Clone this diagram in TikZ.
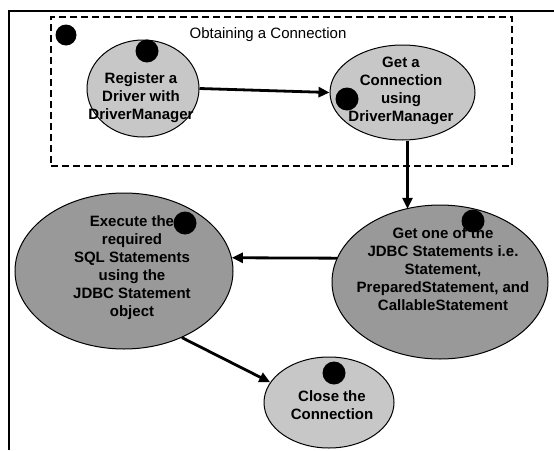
\documentclass[tikz,border=0pt]{standalone}
\usepackage{fontspec}
\setmainfont{Liberation Sans}
\usetikzlibrary{shapes.geometric,arrows.meta}
\begin{document}
\begin{tikzpicture}[x=1pt,y=-1pt,
  bubble/.style={ellipse,draw=black,line width=1pt,inner sep=0pt},
  light/.style={bubble,fill=black!22},
  dark/.style={bubble,fill=black!40},
  steptext/.style={align=center,font=\fontsize{15}{18}\selectfont\bfseries,inner sep=0pt},
  marker/.style={circle,fill=black,inner sep=0pt,minimum size=23pt},
  flow/.style={line width=2.8pt,-{Triangle[length=11pt,width=10pt]}},
  frame/.style={line width=1.3pt},
  group/.style={line width=1.4pt,dash pattern=on 7pt off 4pt}
]
\useasboundingbox (0,0) rectangle (554,450);

% page frame (top and left rules)
\coordinate (fl) at (9,450);
\coordinate (ftl) at (9,11);
\coordinate (ftr) at (554,11);
\draw[frame] (fl) -- (ftl) -- (ftr);

% group: obtaining a connection
\node[group,draw,minimum width=461pt,minimum height=149pt,inner sep=0pt] (grp) at (281.5,91.5) {};
\node[font=\fontsize{15}{17}\selectfont,inner sep=0pt] (title) at (268,35) {Obtaining a Connection};
\node[marker,minimum size=21pt] (m0) at (66,35) {};

% step ellipses
\node[light,minimum width=112pt,minimum height=97pt] (e1) at (143,88.5) {};
\node[light,minimum width=145pt,minimum height=95pt] (e2) at (402.5,92.5) {};
\node[dark,minimum width=216pt,minimum height=154pt] (e4) at (440,282) {};
\node[dark,minimum width=218pt,minimum height=156pt] (e3) at (124,271) {};
\node[light,minimum width=130pt,minimum height=91pt] (e5) at (329,402.5) {};

% step texts
\node[steptext] (t1) at (141,98) {Register a\\Driver with\\DriverManager};
\node[steptext] (t2) at (401,91) {Get a\\Connection\\using\\DriverManager};
\node[steptext] (t4) at (443,269) {Get one of the\\JDBC Statements i.e.\\Statement,\\PreparedStatement, and\\CallableStatement};
\node[steptext] (t3) at (132,268) {Execute the\\required\\SQL Statements\\using the\\JDBC Statement\\object};
\node[steptext] (t5) at (332,405) {Close the\\Connection};

% step markers
\node[marker] (m1) at (147,51) {};
\node[marker] (m2) at (347,99) {};
\node[marker] (m4) at (473,221) {};
\node[marker] (m3) at (185,223) {};
\node[marker] (m5) at (334,373) {};

% flow arrows
\draw[flow] (e1.east) -- (e2.west);
\draw[flow] ([xshift=5pt]e2.south) -- ([xshift=5pt]e2.south |- e4.116);
\draw[flow] (e4.167) -- (e3.7);
\draw[flow] (e3.-49) -- (e5.161);
\end{tikzpicture}
\end{document}
